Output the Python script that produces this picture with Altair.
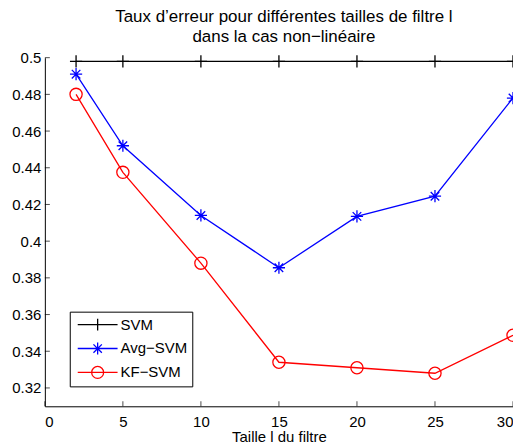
import altair as alt
import pandas as pd

x_vals = [2, 5, 10, 15, 20, 25, 30]
svm_vals = [0.498, 0.498, 0.498, 0.498, 0.498, 0.498, 0.498]
avg_svm_vals = [0.491, 0.452, 0.414, 0.3855, 0.4135, 0.4245, 0.478]
kf_svm_vals = [0.480, 0.4375, 0.388, 0.334, 0.331, 0.328, 0.3487]
series_names = ["SVM", "Avg−SVM", "KF−SVM"]
series_colors = ["#000000", "#0000ff", "#ff0000"]
x_ticks = [0, 5, 10, 15, 20, 25, 30]
y_ticks = [0.32, 0.34, 0.36, 0.38, 0.40, 0.42, 0.44, 0.46, 0.48, 0.50]
x_min, x_max = 0, 30
y_min, y_max = 0.31, 0.5
title_lines = ["Taux d’erreur pour différentes tailles de filtre l", "dans la cas non−linéaire"]
x_title = "Taille l du filtre"

rows = []
for name, vals in zip(series_names, [svm_vals, avg_svm_vals, kf_svm_vals]):
    for xv, yv in zip(x_vals, vals):
        rows.append({"x": xv, "y": yv, "series": name})
df = pd.DataFrame(rows)

xtick_df = pd.DataFrame({"x": x_ticks, "y": [y_min] * len(x_ticks)})
ytick_df = pd.DataFrame({"x": [x_min] * len(y_ticks), "y": y_ticks})

FONT = "Liberation Sans"

plot_shapes = [
    "M-1,0H1M0,-1V1",
    "M-1,0H1M0,-1V1M-0.7,-0.7L0.7,0.7M-0.7,0.7L0.7,-0.7",
    "circle",
]
L = "M-2.857,0H2.857"
legend_shapes = [
    L + "M0,-0.857V0.857",
    L + "M0,-0.857V0.857M-0.6,-0.6L0.6,0.6M-0.6,0.6L0.6,-0.6",
    L + "M-0.857,0A0.857,0.857 0 1,0 0.857,0A0.857,0.857 0 1,0 -0.857,0",
]

xscale = alt.Scale(domain=[x_min, x_max], nice=False)
yscale = alt.Scale(domain=[y_min, y_max], nice=False, zero=False)
xaxis = alt.Axis(values=x_ticks, title=x_title, format="d", labelOverlap=False)
yaxis = alt.Axis(values=y_ticks, title=None, format=".2~f", labelOverlap=False)
xenc = alt.X("x:Q", scale=xscale, axis=xaxis)
yenc = alt.Y("y:Q", scale=yscale, axis=yaxis)

color_scale = alt.Scale(domain=series_names, range=series_colors)

base = alt.Chart(df)

lines = base.mark_line(strokeWidth=1.3).encode(
    x=xenc, y=yenc,
    color=alt.Color("series:N", scale=color_scale, legend=None),
)

points = base.mark_point(filled=False, size=150, strokeWidth=1.3, opacity=1).encode(
    x=xenc, y=yenc,
    color=alt.Color("series:N", scale=color_scale, legend=None),
    shape=alt.Shape("series:N", scale=alt.Scale(domain=series_names, range=plot_shapes), legend=None),
)

legend_layer = base.mark_point(filled=False, size=196, strokeWidth=1.3, opacity=0).encode(
    x=xenc, y=yenc,
    color=alt.Color("series:N", scale=color_scale,
                    legend=alt.Legend(title=None, orient="none", legendX=25, legendY=255,
                                      strokeColor="black", fillColor="white", padding=5,
                                      symbolSize=196, symbolStrokeWidth=1.3, symbolOpacity=1,
                                      symbolOffset=15, labelOffset=15, rowPadding=6,
                                      labelFont=FONT, labelFontSize=15, labelColor="black")),
    shape=alt.Shape("series:N", scale=alt.Scale(domain=series_names, range=legend_shapes)),
)

# inward-pointing axis ticks (MATLAB style)
xticks_in = alt.Chart(xtick_df).mark_tick(orient="vertical", size=5, thickness=1,
                                          color="black", yOffset=-2.5).encode(x=xenc, y=yenc)
yticks_in = alt.Chart(ytick_df).mark_tick(orient="horizontal", size=5, thickness=1,
                                          color="black", xOffset=2.5).encode(x=xenc, y=yenc)

chart = alt.layer(lines, points, xticks_in, yticks_in, legend_layer).resolve_scale(
    color="independent", shape="independent"
).properties(
    width=470, height=350,
    title=alt.TitleParams(text=title_lines, font=FONT, fontSize=17, fontWeight="normal",
                          color="black", anchor="middle", lineHeight=20, offset=-12,
                          baseline="bottom", dx=5),
    autosize=alt.AutoSizeParams(type="none"),
    padding={"left": 37, "top": 49, "right": 0, "bottom": 38},
).configure_view(stroke=None).configure_axis(
    grid=False, domainColor="black", ticks=False,
    labelFont=FONT, labelFontSize=15, labelColor="black", labelPadding=4,
    titleFont=FONT, titleFontSize=15, titleFontWeight="normal", titleColor="black",
).configure_axisX(labelPadding=8, titlePadding=0)

chart.save("out.html", embed_options={"renderer": "svg", "actions": False})
